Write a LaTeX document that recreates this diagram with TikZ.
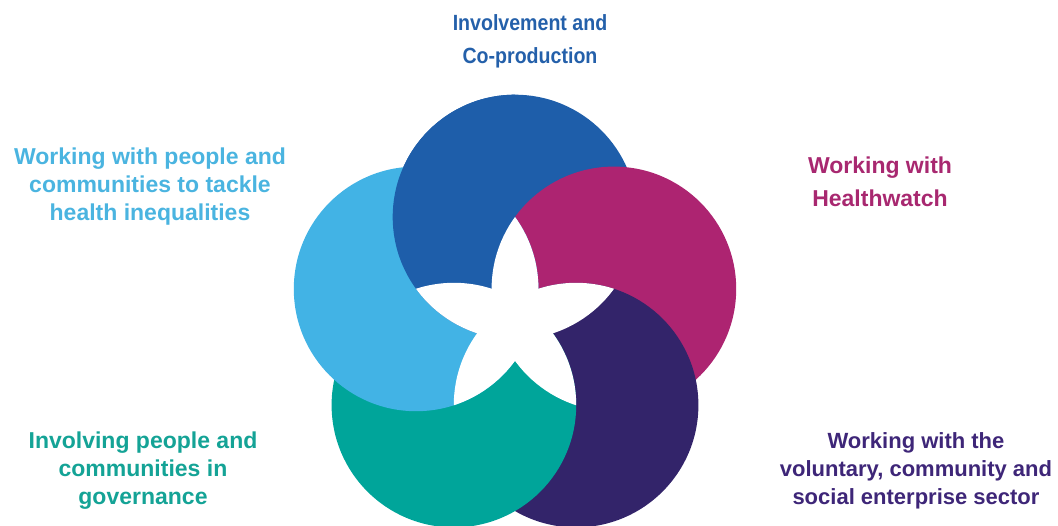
\documentclass[tikz,border=0pt]{standalone}
\usepackage{fontspec}
\setmainfont{Liberation Sans}
\newfontfamily\narrowsans[FakeStretch=0.89]{Liberation Sans}
\definecolor{cDarkBlue}{HTML}{1E5EAA}
\definecolor{cMagenta}{HTML}{AD2471}
\definecolor{cLightBlue}{HTML}{42B3E5}
\definecolor{cTeal}{HTML}{00A59A}
\definecolor{cPurple}{HTML}{33246A}
\definecolor{tDarkBlue}{HTML}{2460AA}
\definecolor{tLightBlue}{HTML}{4AB4E0}
\definecolor{tMagenta}{HTML}{A82870}
\definecolor{tTeal}{HTML}{14A396}
\definecolor{tPurple}{HTML}{3E2678}
\tikzset{
  lbl/.style={anchor=north, inner sep=0pt, align=center, font=\bfseries\fontsize{23}{28}\selectfont},
}
\newcommand{\Rad}{122.3pt}
\begin{document}
\begin{tikzpicture}[x=1pt,y=-1pt]
\useasboundingbox (0,0) rectangle (1058,525);
\clip (0,0) rectangle (1058,525);
\coordinate (O) at (515,321);
\coordinate (C0) at (515,217);
\coordinate (C1) at (613.9,288.9);
\coordinate (C2) at (576.1,405.1);
\coordinate (C3) at (453.9,405.1);
\coordinate (C4) at (416.1,288.9);
% pinwheel circles
\fill[cDarkBlue] (C0) circle (\Rad);
\fill[cMagenta] (C1) circle (\Rad);
\fill[cPurple] (C2) circle (\Rad);
\fill[cTeal] (C3) circle (\Rad);
\fill[cLightBlue] (C4) circle (\Rad);
\begin{scope}
  \clip (0,0) rectangle (515,525);
  \fill[cDarkBlue] (C0) circle (\Rad);
\end{scope}
% white star: union of lenses of non-adjacent discs
\begin{scope}\clip (C1) circle (\Rad); \fill[white] (C4) circle (\Rad);\end{scope}
\begin{scope}\clip (C2) circle (\Rad); \fill[white] (C0) circle (\Rad);\end{scope}
\begin{scope}\clip (C3) circle (\Rad); \fill[white] (C1) circle (\Rad);\end{scope}
\begin{scope}\clip (C4) circle (\Rad); \fill[white] (C2) circle (\Rad);\end{scope}
\begin{scope}\clip (C0) circle (\Rad); \fill[white] (C3) circle (\Rad);\end{scope}
% labels
\node[lbl, text=tDarkBlue, font=\narrowsans\bfseries\fontsize{22}{33}\selectfont] (tInv) at (530,14) {Involvement and\\Co-production};
\node[lbl, text=tLightBlue] (tWork) at (150,148) {Working with people and\\communities to tackle\\health inequalities};
\node[lbl, text=tMagenta, font=\bfseries\fontsize{23}{33}\selectfont] (tHW) at (880,157) {Working with\\Healthwatch};
\node[lbl, text=tTeal] (tGov) at (143,432) {Involving people and\\communities in\\governance};
\node[lbl, text=tPurple, font=\bfseries\fontsize{22}{28}\selectfont] (tVol) at (916,432) {Working with the\\voluntary, community and\\social enterprise sector};
\end{tikzpicture}
\end{document}
